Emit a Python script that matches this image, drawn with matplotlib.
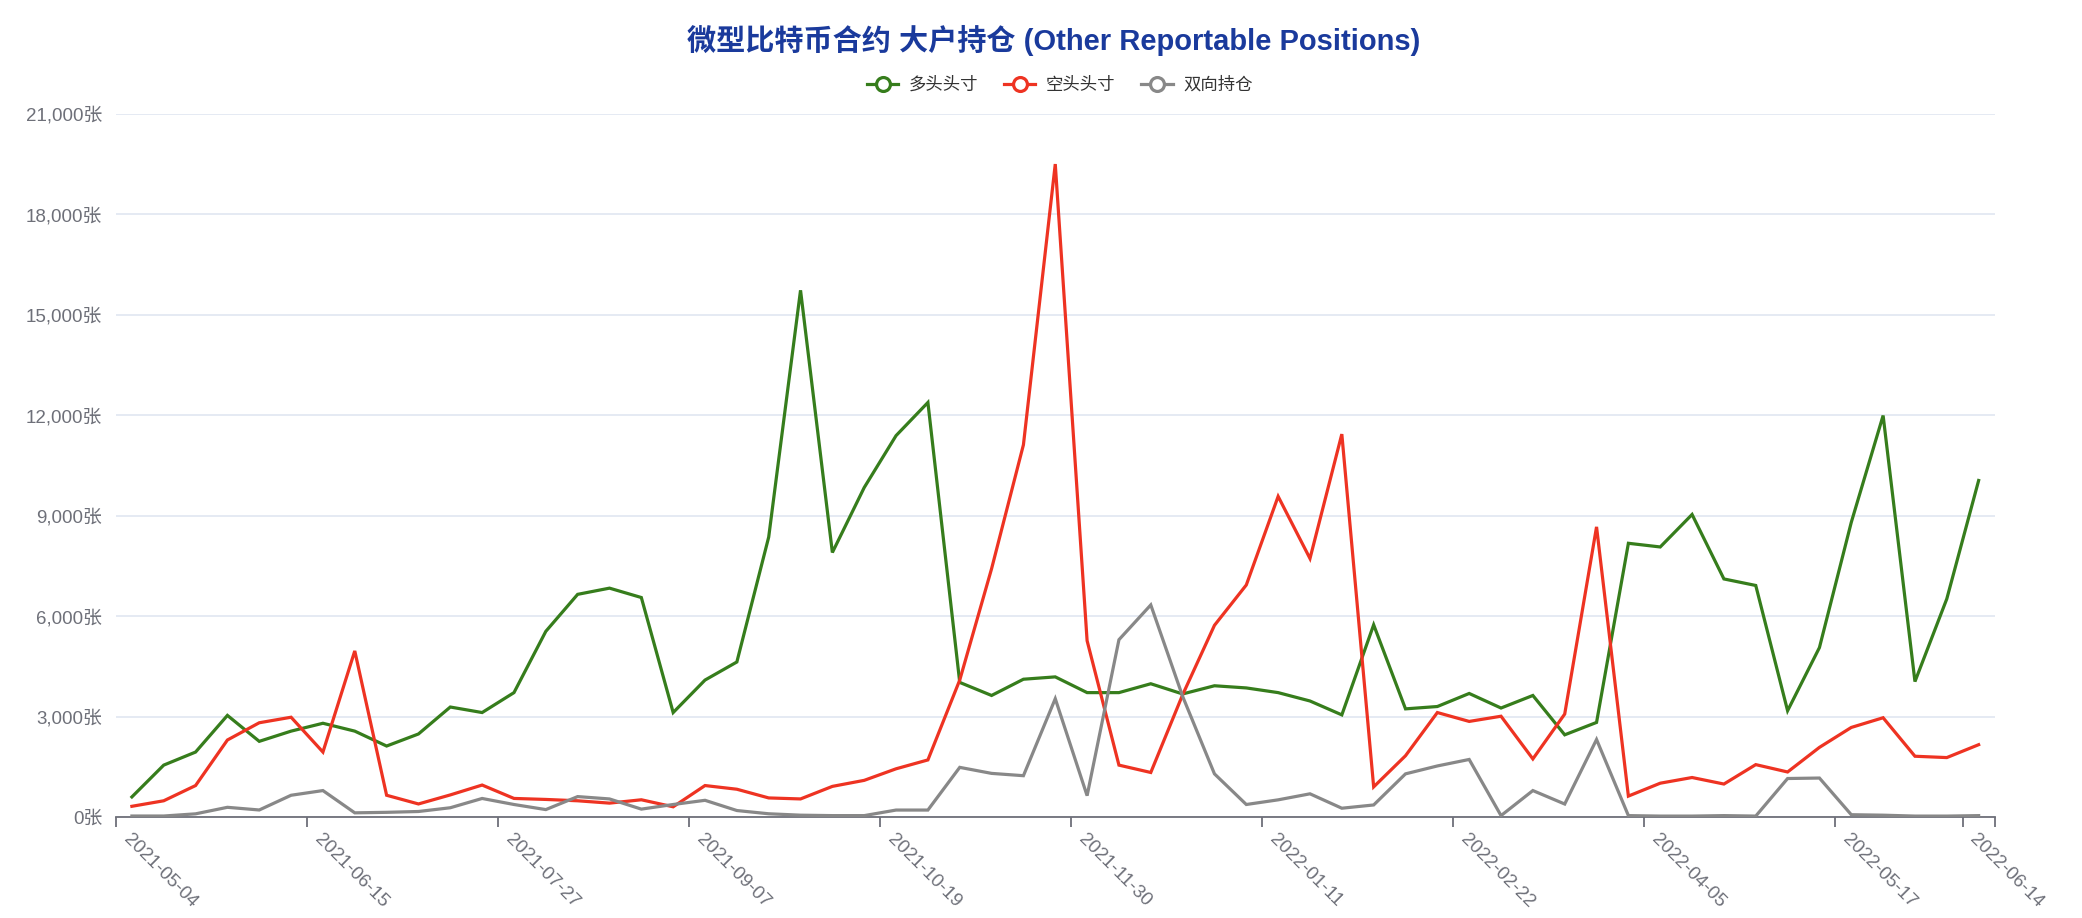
import matplotlib
matplotlib.use("Agg")
import matplotlib.pyplot as plt
from matplotlib.lines import Line2D
from matplotlib.ticker import FuncFormatter, MultipleLocator
import pandas as pd

plt.rcParams['font.family'] = ['Liberation Sans', 'Noto Sans CJK SC', 'DejaVu Sans']

dates = [d.strftime('%Y-%m-%d') for d in pd.date_range('2021-05-04', periods=59, freq='7D')]

long_pos = [600, 1550, 1940, 3035, 2260, 2565, 2800, 2565, 2120, 2480,
            3285, 3120, 3715, 5545, 6650, 6835, 6555, 3120, 4090, 4630,
            8360, 15730, 7900, 9840, 11390, 12380, 4020, 3630, 4115, 4185,
            3715, 3715, 3980, 3675, 3920, 3855, 3715, 3465, 3050, 5740,
            3230, 3300, 3690, 3255, 3630, 2455, 2825, 8175, 8065, 9035,
            7110, 6915, 3175, 5060, 8800, 11990, 4045, 6515, 10050]
short_pos = [320, 485, 940, 2300, 2815, 2980, 1940, 4960, 650, 390,
             660, 955, 555, 525, 485, 415, 515, 305, 940, 830,
             570, 540, 915, 1095, 1440, 1705, 4090, 7415, 11115, 19500,
             5265, 1550, 1330, 3650, 5725, 6930, 9575, 7720, 11435, 900,
             1830, 3120, 2855, 3010, 1735, 3075, 8665, 625, 1010, 1180,
             985, 1565, 1345, 2080, 2675, 2965, 1815, 1775, 2160]
spread_pos = [30, 30, 95, 290, 210, 650, 790, 125, 140, 165,
              277, 554, 374, 222, 610, 540, 236, 374, 499, 194,
              97, 55, 42, 42, 208, 208, 1483, 1303, 1234, 3534,
              638, 5295, 6334, 3604, 1289, 374, 513, 693, 263, 360,
              1289, 1525, 1719, 42, 790, 388, 2315, 42, 28, 28,
              42, 28, 1150, 1164, 69, 55, 28, 28, 42]

series_names = ['多头头寸', '空头头寸', '双向持仓']
colors = ['#367d1c', '#ee3322', '#888888']
title = '微型比特币合约 大户持仓 (Other Reportable Positions)'

fig = plt.figure(figsize=(20.82, 9.18), dpi=100)
ax = fig.add_axes([0.0557, 0.110, 0.9023, 0.766])

x = list(range(len(dates)))
for vals, c in zip([long_pos, short_pos, spread_pos], colors):
    ax.plot(x, vals, color=c, lw=2.3, solid_joinstyle='miter', zorder=3)

ax.set_xlim(-0.5, len(dates) - 0.5)
ax.set_ylim(0, 21000)
ax.yaxis.set_major_locator(MultipleLocator(3000))
ax.yaxis.set_major_formatter(FuncFormatter(lambda v, p: f'{int(v):,}张'))
ax.grid(axis='y', color='#e0e6f1', lw=1.2, zorder=0)
ax.set_axisbelow(True)

for s in ['top', 'right', 'left']:
    ax.spines[s].set_visible(False)
ax.spines['bottom'].set_color('#6e7079')
ax.spines['bottom'].set_linewidth(1.3)

ax.tick_params(axis='y', length=0, labelsize=13.5, labelcolor='#6e7079', pad=10)

label_idx = list(range(0, len(dates), 6)) + [len(dates) - 1]
ax.set_xticks([i for i in label_idx])
ax.set_xticklabels([dates[i] for i in label_idx], rotation=-45, ha='left', va='top',
                   rotation_mode='anchor', fontsize=13.5, color='#6e7079')
ax.tick_params(axis='x', length=0, pad=10)
# boundary ticks
tick_pos = [i - 0.5 for i in label_idx] + [len(dates) - 0.5]
ax.set_xticks(tick_pos, minor=True)
ax.tick_params(axis='x', which='minor', length=7, width=1.3, color='#6e7079')

fig.text(0.506, 0.956, title, ha='center', va='center', fontsize=21,
         fontweight='bold', color='#1a3a9c')

handles = [Line2D([0], [0], color=c, lw=2.3, marker='o', markersize=10,
                  markerfacecolor='white', markeredgewidth=2.3) for c in colors]
leg = fig.legend(handles, series_names, loc='center', bbox_to_anchor=(0.509, 0.908),
                 ncol=3, frameon=False, fontsize=12.5, handlelength=1.8,
                 columnspacing=1.5, handletextpad=0.6)
for t in leg.get_texts():
    t.set_color('#333333')

fig.savefig('out.png', dpi=100)
